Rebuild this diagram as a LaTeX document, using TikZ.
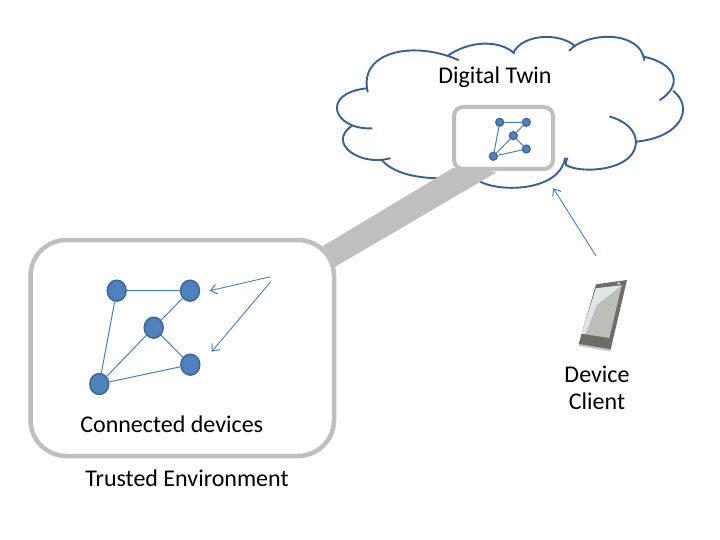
\documentclass[tikz,border=0pt]{standalone}
\usepackage{fontspec}
\setmainfont{Carlito}
\usetikzlibrary{arrows.meta,shapes.geometric}
\definecolor{nodefill}{HTML}{4F81BD}
\definecolor{nodeedge}{HTML}{3A6596}
\definecolor{linkblue}{HTML}{4A7EBB}
\definecolor{cloudblue}{HTML}{3A6090}
\definecolor{boxgray}{HTML}{BFBFBF}
\definecolor{phonebody}{HTML}{6E6C66}
\definecolor{phoneedge}{HTML}{C9C9C6}
\definecolor{phonescreen}{HTML}{BCBEBA}
\definecolor{phoneglare}{HTML}{DFE6E8}
\tikzset{
  bigdev/.style={ellipse,draw=nodeedge,fill=nodefill,line width=1.4pt,minimum width=19pt,minimum height=21pt,inner sep=0pt},
  smalldev/.style={circle,draw=nodeedge,fill=nodefill,line width=1.2pt,minimum size=8pt,inner sep=0pt},
  link/.style={draw=linkblue,line width=1pt},
  callout/.style={draw=linkblue,line width=.9pt,-{Straight Barb[length=6pt,width=10pt,line width=1pt]}},
  cloudline/.style={draw=cloudblue,line width=1.9pt,line cap=round},
  frame/.style={draw=boxgray,fill=white},
  lbl/.style={font=\fontsize{24}{28}\selectfont,text=black,inner sep=0pt}
}
\begin{document}
\begin{tikzpicture}[x=1pt,y=-1pt]
\useasboundingbox (0,0) rectangle (720,540);
% cloud
\begin{scope}[shift={(330,30)},x=.3333pt,y=-.3333pt]
\draw[cloudline] (113,185) .. controls (85,65) and (250,30) .. (385,90);
\draw[cloudline] (352,78) .. controls (420,30) and (510,30) .. (553,70);
\draw[cloudline] (550,68) .. controls (580,10) and (690,8) .. (735,48);
\draw[cloudline] (718,62) .. controls (770,5) and (930,0) .. (943,90);
\draw[cloudline] (940,80) .. controls (1040,100) and (1060,165) .. (990,210);
\draw[cloudline] (1030,183) .. controls (1090,230) and (1060,320) .. (920,335);
\draw[cloudline] (840,260) .. controls (930,285) and (940,360) .. (880,395) .. controls (830,425) and (740,425) .. (708,405) .. controls (705,400) and (708,392) .. (712,385);
\draw[cloudline] (705,385) .. controls (690,480) and (520,490) .. (450,455);
\draw[cloudline] (335,445) .. controls (260,445) and (190,430) .. (155,390);
\draw[cloudline] (180,385) .. controls (90,410) and (-10,340) .. (65,288);
\draw[cloudline] (125,295) .. controls (10,300) and (-30,190) .. (110,175);
\end{scope}
% beam
\fill[boxgray] (323,246) -- (453,168) -- (497,172) -- (333,268) -- cycle;
% frames
\draw[frame,line width=4.5pt,rounded corners=36pt] (30.5,240) rectangle (334,456);
\draw[frame,line width=4pt,rounded corners=9pt] (454,107) rectangle (553,169);
% large network
\node[bigdev] (a) at (116.7,290.7) {};
\node[bigdev] (b) at (190,290.7) {};
\node[bigdev] (c) at (153.7,327.7) {};
\node[bigdev] (d) at (190.3,364.7) {};
\node[bigdev] (e) at (99.3,384) {};
\draw[link] (a)--(b) (a)--(e) (b)--(c) (c)--(e) (c)--(d) (d)--(e);
\coordinate (s1) at (270.7,276.7);
\coordinate (t1) at (210,290.7);
\coordinate (s2) at (270.7,281.7);
\coordinate (t2) at (211.7,351.7);
\draw[callout] (s1)--(t1);
\draw[callout] (s2)--(t2);
% small network
\node[smalldev] (sa) at (499.7,122.3) {};
\node[smalldev] (sb) at (526.3,122.3) {};
\node[smalldev] (sc) at (513.3,135.7) {};
\node[smalldev] (sd) at (526.3,149) {};
\node[smalldev] (se) at (493.3,156.3) {};
\draw[link] (sa)--(sb) (sa)--(se) (sb)--(sc) (sc)--(se) (sc)--(sd) (sd)--(se);
% phone
\begin{scope}[shift={(540,170)},x=.3333pt,y=-.3333pt]
\fill[phoneedge] (115,528) -- (212,545) -- (214,536) -- (116,519) -- cycle;
\fill[phonebody] (168,343) -- (261,330) -- (212,538) -- (116,522) -- cycle;
\fill[phonescreen] (168,355) -- (245,346) -- (208,504) -- (125,491) -- cycle;
\fill[phoneglare] (168,355) -- (245,346) -- (170,405) -- (136,492) -- (125,491) -- cycle;
\fill[white] (236,340) circle (3.5);
\end{scope}
\coordinate (cs) at (596,256);
\coordinate (ct) at (553.3,188.3);
\draw[callout] (cs)--(ct);
% labels
\node[lbl] (dt) at (495,77.5) {Digital Twin};
\node[lbl] (cd) at (171.7,424) {Connected devices};
\node[lbl] (te) at (187,478) {Trusted Environment};
\node[lbl] (dv) at (597,374) {Device};
\node[lbl] (cl) at (597,401) {Client};
\end{tikzpicture}
\end{document}
